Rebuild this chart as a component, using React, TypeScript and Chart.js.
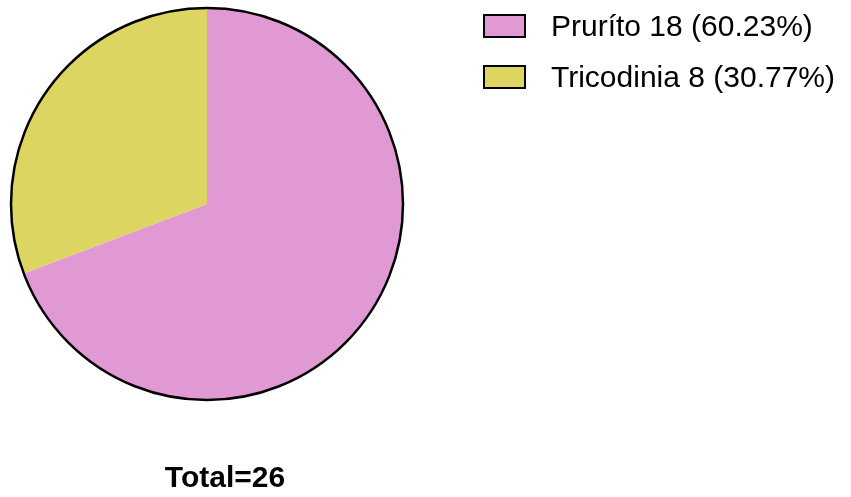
import React, { useEffect, useRef } from "react";
import { Chart, registerables } from "chart.js";

Chart.register(...registerables);

const labels = ["Prur\u00edto", "Tricodinia"];
const values = [18, 8];
const percentLabels = ["60.23%", "30.77%"];
const colors = ["#E199D4", "#DDD562"];
const totalLabel = "Total=26";

const FONT = '"Liberation Sans", Arial, Helvetica, sans-serif';

const outlinePlugin = {
  id: "outline",
  afterDatasetsDraw(chart: any) {
    const meta = chart.getDatasetMeta(0);
    const arc = meta.data[0];
    if (!arc) return;
    const { x, y, outerRadius } = arc.getProps(["x", "y", "outerRadius"], true);
    const ctx = chart.ctx;
    ctx.save();
    ctx.beginPath();
    ctx.arc(x, y, outerRadius, 0, Math.PI * 2);
    ctx.lineWidth = 2.5;
    ctx.strokeStyle = "#000";
    ctx.stroke();
    ctx.restore();
  },
};

export default function App() {
  const ref = useRef<HTMLCanvasElement>(null);
  useEffect(() => {
    if (!ref.current) return;
    const chart = new Chart(ref.current, {
      type: "pie",
      data: {
        labels,
        datasets: [
          {
            data: values,
            backgroundColor: colors,
            borderWidth: 0,
          },
        ],
      },
      options: {
        responsive: false,
        animation: false,
        devicePixelRatio: 1,
        layout: { padding: { left: 11, top: 8, right: 448, bottom: 97 } },
        plugins: {
          legend: { display: false },
          tooltip: { enabled: false },
        },
      },
      plugins: [outlinePlugin],
    });
    return () => chart.destroy();
  }, []);

  return (
    <div
      style={{
        position: "fixed",
        left: 0,
        top: 0,
        width: 851,
        height: 497,
        background: "#fff",
        fontFamily: FONT,
      }}
    >
      <canvas ref={ref} width={851} height={497} style={{ position: "absolute", left: 0, top: 0 }} />
      {labels.map((l, i) => (
        <div key={l} style={{ position: "absolute", left: 483, top: 11 + i * 50.5, height: 30, display: "flex", alignItems: "flex-start" }}>
          <div
            style={{
              width: 39,
              height: 20,
              marginTop: 3,
              background: colors[i],
              border: "2px solid #000",
            }}
          />
          <div style={{ marginLeft: 25, fontSize: 30, lineHeight: "30px", color: "#000", whiteSpace: "nowrap" }}>
            {`${l} ${values[i]} (${percentLabels[i]})`}
          </div>
        </div>
      ))}
      <div
        style={{
          position: "absolute",
          left: 125,
          top: 461.5,
          width: 200,
          textAlign: "center",
          fontSize: 30,
          lineHeight: "30px",
          fontWeight: "bold",
          color: "#000",
        }}
      >
        {totalLabel}
      </div>
    </div>
  );
}
